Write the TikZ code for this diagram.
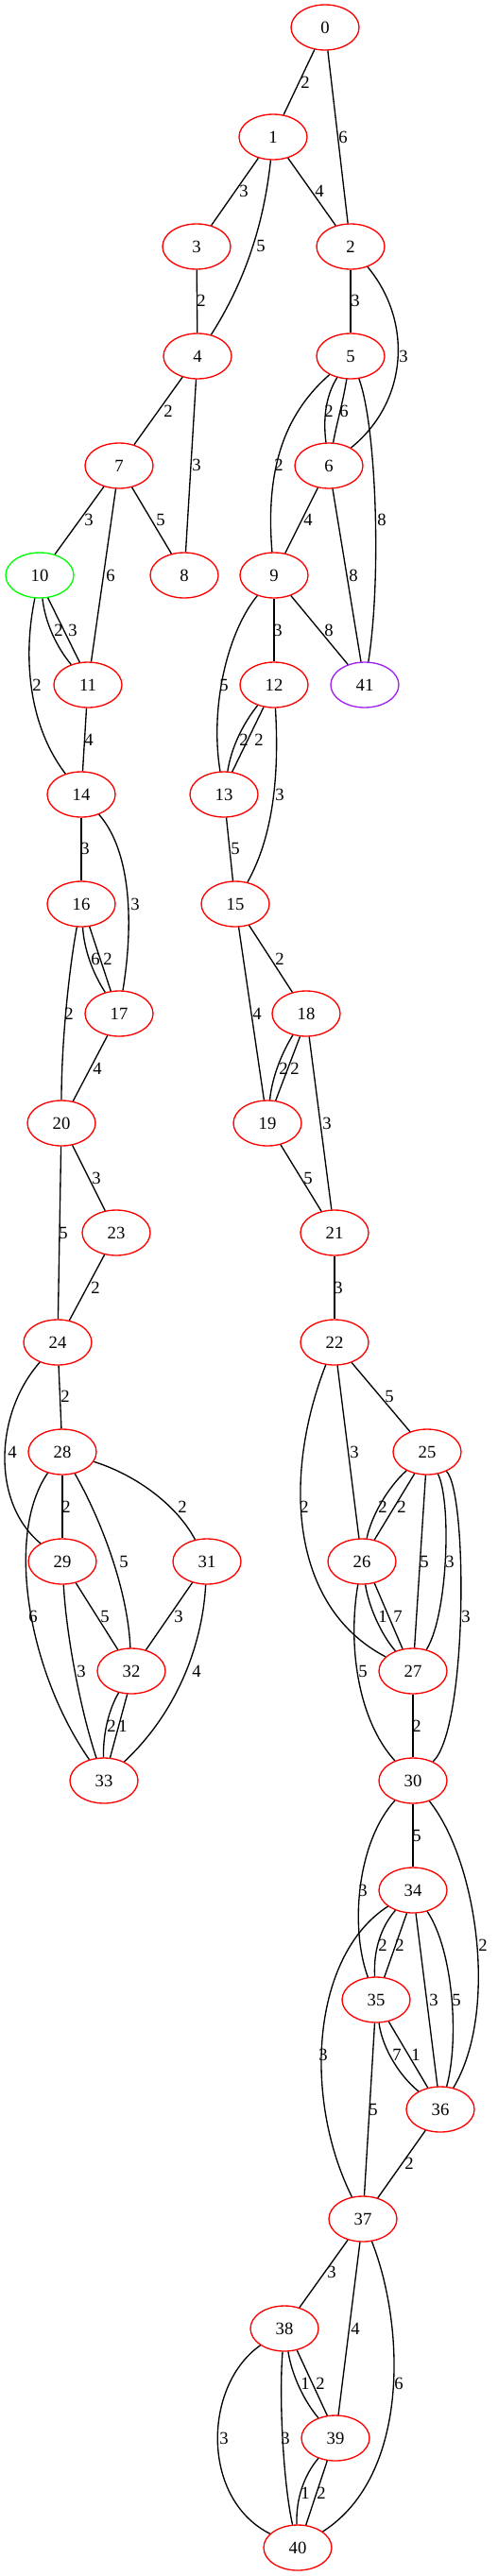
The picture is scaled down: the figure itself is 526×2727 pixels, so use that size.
\documentclass[tikz,border=0pt]{standalone}
\usepackage{fontspec}
\setmainfont{Liberation Serif}
\usetikzlibrary{shapes.geometric}
\definecolor{gvgreen}{HTML}{00FF00}
\definecolor{gvpurple}{HTML}{A020F0}
\definecolor{gvred}{HTML}{FF0000}
\tikzset{
  vx/.style={ellipse, draw=gvred, line width=1pt, minimum width=54pt, minimum height=36pt, inner sep=0pt, font=\fontsize{14}{16}\selectfont},
  lbl/.style={inner sep=0pt, font=\fontsize{14}{16}\selectfont},
  ed/.style={line width=1pt, black}
}
\begin{document}
\begin{tikzpicture}[x=0.75pt, y=-0.75pt]
\path[use as bounding box] (0,0) rectangle (526,2727);
% nodes
\node[vx] (n0) at (344,29) {0};
\node[vx] (n1) at (289,145) {1};
\node[vx] (n2) at (371,261) {2};
\node[vx] (n3) at (208,261) {3};
\node[vx] (n4) at (209,377) {4};
\node[vx] (n5) at (371,377) {5};
\node[vx] (n6) at (348,493) {6};
\node[vx] (n7) at (126,493) {7};
\node[vx] (n8) at (195,609) {8};
\node[vx] (n9) at (290,609) {9};
\node[vx, draw=gvgreen] (n10) at (42,609) {10};
\node[vx] (n11) at (93,725) {11};
\node[vx] (n12) at (290,725) {12};
\node[vx, draw=gvpurple] (n41) at (386,725) {41};
\node[vx] (n13) at (237,841) {13};
\node[vx] (n14) at (86,841) {14};
\node[vx] (n15) at (249,957) {15};
\node[vx] (n16) at (86,957) {16};
\node[vx] (n17) at (126,1073) {17};
\node[vx] (n18) at (324,1073) {18};
\node[vx] (n19) at (283,1189) {19};
\node[vx] (n20) at (65,1189) {20};
\node[vx] (n21) at (354,1305) {21};
\node[vx] (n23) at (123,1305) {23};
\node[vx] (n22) at (354,1421) {22};
\node[vx] (n24) at (61,1421) {24};
\node[vx] (n25) at (452,1537) {25};
\node[vx] (n28) at (66,1537) {28};
\node[vx] (n26) at (383,1653) {26};
\node[vx] (n29) at (66,1653) {29};
\node[vx] (n31) at (219,1653) {31};
\node[vx] (n27) at (437,1769) {27};
\node[vx] (n32) at (139,1769) {32};
\node[vx] (n30) at (437,1885) {30};
\node[vx] (n33) at (110,1885) {33};
\node[vx] (n34) at (437,2001) {34};
\node[vx] (n35) at (398,2117) {35};
\node[vx] (n36) at (466,2233) {36};
\node[vx] (n37) at (384,2349) {37};
\node[vx] (n38) at (301,2465) {38};
\node[vx] (n39) at (355,2581) {39};
\node[vx] (n40) at (315,2697) {40};
% straight edges
\draw[ed] (n0) -- (n1) node[lbl] (l1) at (323,87) {2};
\draw[ed] (n0) -- (n2) node[lbl] (l2) at (363,145) {6};
\draw[ed] (n1) -- (n3) node[lbl] (l3) at (258,202) {3};
\draw[ed] (n1) -- (n2) node[lbl] (l4) at (338,202) {4};
\draw[ed] (n3) -- (n4) node[lbl] (l5) at (213,318) {2};
\draw[ed] (n2) -- (n5) node[lbl] (l6) at (376,318) {3};
\draw[ed] (n4) -- (n7) node[lbl] (l7) at (178,435) {2};
\draw[ed] (n4) -- (n8) node[lbl] (l8) at (208,492) {3};
\draw[ed] (n6) -- (n9) node[lbl] (l9) at (326,550) {4};
\draw[ed] (n6) -- (n41) node[lbl] (l10) at (374,609) {8};
\draw[ed] (n7) -- (n10) node[lbl] (l11) at (94,550) {3};
\draw[ed] (n7) -- (n11) node[lbl] (l12) at (117,609) {6};
\draw[ed] (n7) -- (n8) node[lbl] (l13) at (170,550) {5};
\draw[ed] (n9) -- (n12) node[lbl] (l14) at (294,667) {3};
\draw[ed] (n9) -- (n41) node[lbl] (l15) at (348,667) {8};
\draw[ed] (n11) -- (n14) node[lbl] (l16) at (94,783) {4};
\draw[ed] (n13) -- (n15) node[lbl] (l17) at (249,898) {5};
\draw[ed] (n14) -- (n16) node[lbl] (l18) at (90,898) {3};
\draw[ed] (n15) -- (n18) node[lbl] (l19) at (296,1015) {2};
\draw[ed] (n15) -- (n19) node[lbl] (l20) at (272,1073) {4};
\draw[ed] (n17) -- (n20) node[lbl] (l21) at (103,1131) {4};
\draw[ed] (n18) -- (n21) node[lbl] (l22) at (346,1189) {3};
\draw[ed] (n20) -- (n23) node[lbl] (l23) at (102,1247) {3};
\draw[ed] (n20) -- (n24) node[lbl] (l24) at (67,1305) {5};
\draw[ed] (n19) -- (n21) node[lbl] (l25) at (326,1247) {5};
\draw[ed] (n23) -- (n24) node[lbl] (l26) at (101,1363) {2};
\draw[ed] (n21) -- (n22) node[lbl] (l27) at (358,1363) {3};
\draw[ed] (n24) -- (n28) node[lbl] (l28) at (69,1478) {2};
\draw[ed] (n22) -- (n25) node[lbl] (l29) at (412,1478) {5};
\draw[ed] (n22) -- (n26) node[lbl] (l30) at (375,1537) {3};
\draw[ed] (n28) -- (n29) node[lbl] (l31) at (70,1595) {2};
\draw[ed] (n25) -- (n27) node[lbl] (l32) at (449,1653) {5};
\draw[ed] (n29) -- (n32) node[lbl] (l33) at (111,1711) {5};
\draw[ed] (n31) -- (n32) node[lbl] (l34) at (189,1711) {3};
\draw[ed] (n27) -- (n30) node[lbl] (l35) at (441,1827) {2};
\draw[ed] (n30) -- (n34) node[lbl] (l36) at (441,1943) {5};
\draw[ed] (n34) -- (n36) node[lbl] (l37) at (459,2117) {3};
\draw[ed] (n35) -- (n37) node[lbl] (l38) at (395,2233) {5};
\draw[ed] (n36) -- (n37) node[lbl] (l39) at (433,2290) {2};
\draw[ed] (n37) -- (n38) node[lbl] (l40) at (351,2405) {3};
\draw[ed] (n37) -- (n39) node[lbl] (l41) at (376,2465) {4};
% curved and parallel edges
\draw[ed] (n1) .. controls (279,240) and (258,300) .. (n4) node[lbl] (c1) at (276,260) {5};
\draw[ed] (n2) .. controls (437,340) and (432,425) .. (n6) node[lbl] (c2) at (427,377) {3};
\draw[ed] (n5) .. controls (344,420) and (342,445) .. (n6) node[lbl] (c3) at (348,435) {2};
\draw[ed] (n5) .. controls (362,430) and (357,445) .. (n6) node[lbl] (c4) at (364,435) {6};
\draw[ed] (n5) .. controls (305,435) and (280,490) .. (n9) node[lbl] (c5) at (295,492) {2};
\draw[ed] (n5) .. controls (398,450) and (404,610) .. (n41) node[lbl] (c6) at (404,550) {8};
\draw[ed] (n9) .. controls (240,670) and (222,750) .. (n13) node[lbl] (c7) at (237,725) {5};
\draw[ed] (n10) .. controls (25,690) and (28,765) .. (n14) node[lbl] (c8) at (39,725) {2};
\draw[ed] (n10) .. controls (48,660) and (60,685) .. (n11) node[lbl] (c9) at (62,667) {2};
\draw[ed] (n10.-70) -- (n11.110) node[lbl] (c10) at (77,667) {3};
\draw[ed] (n12) .. controls (258,765) and (245,790) .. (n13) node[lbl] (c11) at (258,783) {2};
\draw[ed] (n12.-115) -- (n13.70) node[lbl] (c12) at (274,783) {2};
\draw[ed] (n12) .. controls (295,810) and (292,880) .. (n15) node[lbl] (c13) at (296,841) {3};
\draw[ed] (n14) .. controls (138,900) and (142,975) .. (n17) node[lbl] (c14) at (143,957) {3};
\draw[ed] (n16) .. controls (89,1005) and (98,1030) .. (n17) node[lbl] (c15) at (101,1015) {6};
\draw[ed] (n16.-70) -- (n17.110) node[lbl] (c16) at (114,1015) {2};
\draw[ed] (n16) .. controls (74,1020) and (65,1100) .. (n20) node[lbl] (c17) at (73,1073) {2};
\draw[ed] (n18) .. controls (298,1115) and (288,1140) .. (n19) node[lbl] (c18) at (300,1131) {2};
\draw[ed] (n18.-105) -- (n19.70) node[lbl] (c19) at (312,1131) {2};
\draw[ed] (n24) .. controls (-5,1495) and (-10,1590) .. (n29) node[lbl] (c20) at (13,1537) {4};
\draw[ed] (n22) .. controls (300,1560) and (305,1700) .. (n27) node[lbl] (c21) at (322,1595) {2};
\draw[ed] (n28) .. controls (140,1560) and (185,1590) .. (n31) node[lbl] (c22) at (193,1595) {2};
\draw[ed] (n28) .. controls (105,1605) and (135,1680) .. (n32) node[lbl] (c23) at (131,1653) {5};
\draw[ed] (n28) .. controls (5,1625) and (30,1770) .. (n33) node[lbl] (c24) at (35,1711) {6};
\draw[ed] (n29) .. controls (70,1730) and (85,1810) .. (n33) node[lbl] (c25) at (86,1769) {3};
\draw[ed] (n31) .. controls (214,1745) and (185,1815) .. (n33) node[lbl] (c26) at (208,1769) {4};
\draw[ed] (n32) .. controls (115,1810) and (109,1835) .. (n33) node[lbl] (c27) at (118,1827) {2};
\draw[ed] (n32.-100) -- (n33.75) node[lbl] (c28) at (130,1827) {1};
\draw[ed] (n25) .. controls (410,1575) and (393,1605) .. (n26) node[lbl] (c29) at (405,1595) {2};
\draw[ed] (n25.-120) -- (n26.60) node[lbl] (c30) at (425,1595) {2};
\draw[ed] (n25) .. controls (478,1590) and (474,1710) .. (n27) node[lbl] (c31) at (476,1653) {3};
\draw[ed] (n25) .. controls (495,1580) and (495,1830) .. (n30) node[lbl] (c32) at (493,1711) {3};
\draw[ed] (n26) .. controls (390,1700) and (403,1730) .. (n27) node[lbl] (c33) at (405,1711) {1};
\draw[ed] (n26.-60) -- (n27.115) node[lbl] (c34) at (421,1711) {7};
\draw[ed] (n26) .. controls (368,1740) and (378,1820) .. (n30) node[lbl] (c35) at (384,1769) {5};
\draw[ed] (n30) .. controls (378,1950) and (370,2040) .. (n35) node[lbl] (c36) at (384,2001) {3};
\draw[ed] (n30) .. controls (505,1970) and (528,2130) .. (n36) node[lbl] (c37) at (511,2059) {2};
\draw[ed] (n34) .. controls (403,2040) and (395,2065) .. (n35) node[lbl] (c38) at (405,2059) {2};
\draw[ed] (n34.-105) -- (n35.70) node[lbl] (c39) at (423,2059) {2};
\draw[ed] (n34) .. controls (480,2065) and (486,2160) .. (n36) node[lbl] (c40) at (483,2117) {5};
\draw[ed] (n34) .. controls (330,2070) and (320,2220) .. (n37) node[lbl] (c41) at (342,2175) {3};
\draw[ed] (n35) .. controls (404,2165) and (420,2195) .. (n36) node[lbl] (c42) at (420,2175) {7};
\draw[ed] (n35.-60) -- (n36.120) node[lbl] (c43) at (440,2175) {1};
\draw[ed] (n37) .. controls (428,2460) and (435,2620) .. (n40) node[lbl] (c44) at (422,2523) {6};
\draw[ed] (n38) .. controls (309,2515) and (322,2542) .. (n39) node[lbl] (c45) at (323,2523) {1};
\draw[ed] (n38.-60) -- (n39.110) node[lbl] (c46) at (339,2523) {2};
\draw[ed] (n38) .. controls (215,2525) and (212,2645) .. (n40) node[lbl] (c47) at (237,2581) {3};
\draw[ed] (n38) .. controls (295,2540) and (300,2630) .. (n40) node[lbl] (c48) at (302,2581) {3};
\draw[ed] (n39) .. controls (322,2620) and (313,2645) .. (n40) node[lbl] (c49) at (323,2639) {1};
\draw[ed] (n39.-110) -- (n40.70) node[lbl] (c50) at (340,2639) {2};
\end{tikzpicture}
\end{document}
